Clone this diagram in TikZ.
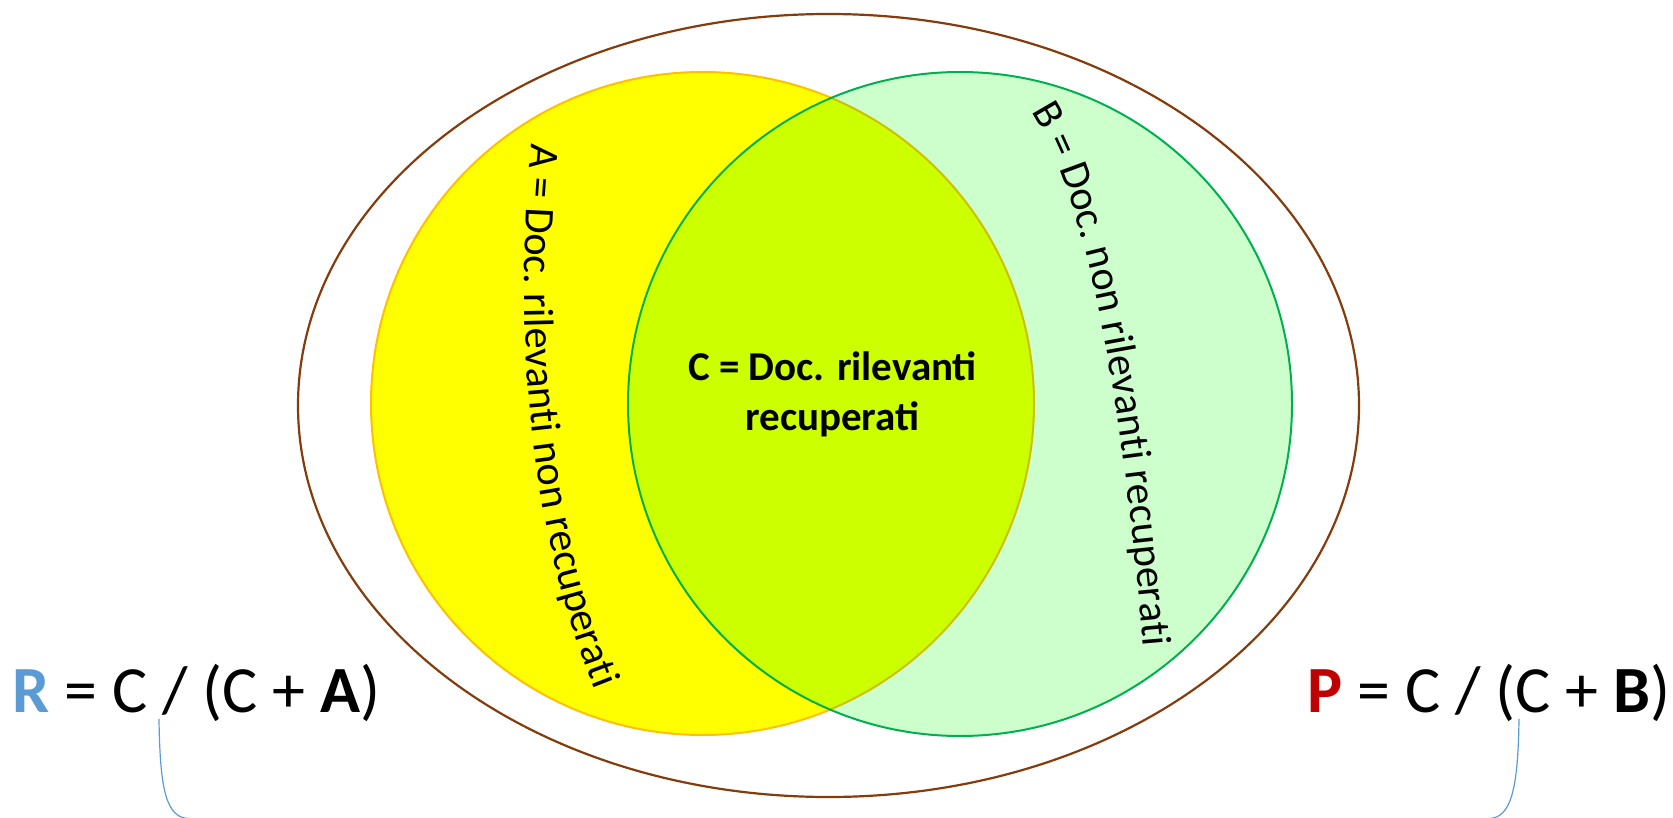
\documentclass[tikz,border=0pt]{standalone}
\usepackage{fontspec}
\setmainfont{Carlito}
\usetikzlibrary{decorations.text}
\definecolor{setedge}{HTML}{843C0C}
\definecolor{relfill}{HTML}{FFFF00}
\definecolor{reledge}{HTML}{FFC000}
\definecolor{retfill}{HTML}{CCFFCC}
\definecolor{retedge}{HTML}{00B050}
\definecolor{bothfill}{HTML}{CCFF00}
\definecolor{bothedge}{HTML}{CCC000}
\definecolor{recallblue}{HTML}{5B9BD5}
\definecolor{precred}{HTML}{C00000}
\begin{document}
\begin{tikzpicture}[x=1pt,y=-1pt,
  formula/.style={anchor=base west,inner sep=0pt,font=\fontsize{66}{79}\selectfont},
  brace/.style={draw=recallblue,line width=1.2pt}]
\useasboundingbox (0,0) rectangle (1673,818);

% universe of documents
\draw[setedge,line width=2.2pt] (828.5,405.5) ellipse [x radius=530.5pt, y radius=391.5pt];

% relevant set (A + C) and retrieved set (B + C)
\coordinate (relc) at (702.5,403.5);
\coordinate (retc) at (960,404);
\fill[relfill] (relc) circle[radius=331.5pt];
\draw[reledge,line width=2pt] (relc) circle[radius=331.5pt];
\fill[retfill] (retc) circle[radius=332pt];
\begin{scope}
  \clip (relc) circle[radius=331.5pt];
  \fill[bothfill] (retc) circle[radius=332pt];
\end{scope}
\begin{scope}
  \clip (retc) circle[radius=333pt];
  \draw[bothedge,line width=2pt] (relc) circle[radius=331.5pt];
\end{scope}
\draw[retedge,line width=2pt] (retc) circle[radius=332pt];

% labels of the three regions
\node[inner sep=0pt,anchor=base] (ctext) at (832.5,380)
  {\fontsize{41}{50}\selectfont\bfseries
   \begin{tabular}[t]{@{}c@{}}C = Doc. rilevanti\\recuperati\end{tabular}};

\path[decorate,decoration={text along path,text align=left,
    text={|\fontsize{42.3}{50}\selectfont|A = Doc. rilevanti non recuperati}}]
  (532,143) .. controls (513,330) and (528,540) .. (605,715);

\path[decorate,decoration={text along path,text align=left,
    text={|\fontsize{42}{50}\selectfont|B = Doc. non rilevanti recuperati}}]
  (1031,112) .. controls (1096,212) and (1128,450) .. (1146,680);

% recall and precision
\node[formula] (recall) at (12,712)
  {\textcolor{recallblue}{\bfseries R} = C / (C + \textbf{A})};
\node[formula] (precision) at (1307,712)
  {\textcolor{precred}{\bfseries P} = C / (C + \textbf{B})};

% brace joining the two formulas
\coordinate (rb) at (159,719);
\coordinate (pb) at (1519,719);
\coordinate (tip) at (845,845);
\draw[brace] (rb) .. controls (160,790) and (166,818.6) .. (190,818.6)
  -- (815,818.6) .. controls (835,818.6) and (843,828) .. (tip);
\draw[brace] (pb) .. controls (1518,790) and (1511,818.6) .. (1488,818.6)
  -- (875,818.6) .. controls (855,818.6) and (847,828) .. (tip);
\end{tikzpicture}
\end{document}
